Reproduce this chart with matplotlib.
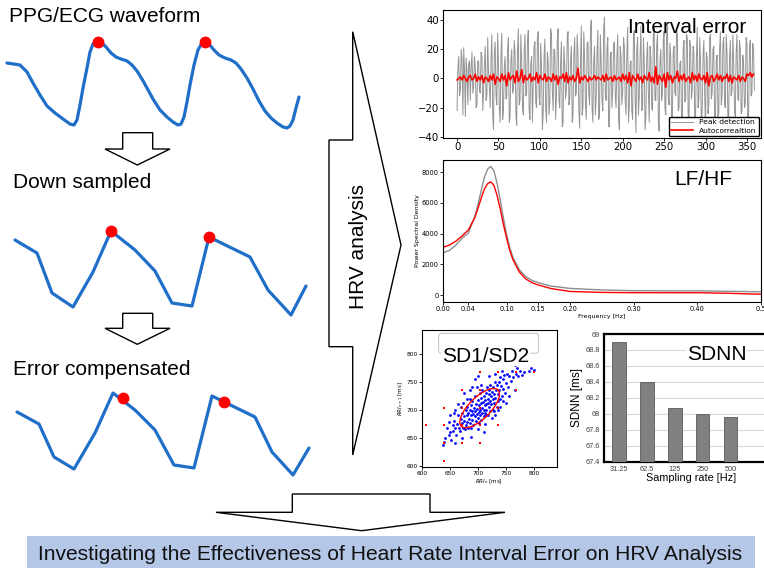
# plot.py - HRV graphical abstract (interval error, LF/HF, Poincare, SDNN)
import matplotlib
matplotlib.use("Agg")
import matplotlib.pyplot as plt
from matplotlib.patches import Polygon, Ellipse, Rectangle, FancyBboxPatch

# ------------------------------
# DATA
# ------------------------------
# schematic waveforms (pixel space of the left panel)
wave1_x = [7, 20, 27, 33, 40, 47, 55, 63, 70, 74, 77, 80, 83, 87, 90, 93, 97, 101, 106, 111,
           116, 121, 127, 132, 137, 142, 147, 153, 160, 167, 173, 178, 181, 184, 187, 190, 194,
           198, 202, 205, 209, 214, 219, 225, 231, 236, 241, 247, 253, 259, 265, 271, 277, 283,
           287, 290, 293, 296, 299]
wave1_y = [63, 65, 72, 83, 95, 106, 113, 119, 124, 125, 120, 105, 88, 68, 52, 44, 41, 42, 47, 53,
           57, 59, 61, 65, 71, 79, 88, 99, 110, 117, 122, 125, 124, 117, 102, 85, 65,
           50, 43, 41, 44, 50, 55, 58, 60, 63, 69, 78, 89, 101, 111, 118, 123, 127,
           128, 126, 120, 108, 97]
wave1_peaks_x = [98, 205]
wave1_peaks_y = [42, 42]

wave2_x = [15, 37, 52, 73, 93, 111, 135, 155, 172, 192, 209, 250, 268, 291, 306]
wave2_y = [240, 253, 293, 307, 272, 231, 250, 271, 303, 306, 237, 257, 290, 315, 286]
wave2_peaks_x = [111, 209]
wave2_peaks_y = [231, 237]

wave3_x = [17, 39, 54, 74, 95, 113, 135, 155, 174, 194, 212, 255, 272, 293, 309]
wave3_y = [412, 424, 457, 469, 433, 393, 410, 430, 465, 468, 396, 417, 452, 475, 448]
wave3_peaks_x = [123, 224]
wave3_peaks_y = [398, 402]

# interval error, peak detection (one value per beat)
beat_idx = list(range(360))
err_peak = [
    -22, 8, 15, -12, -8, 20, 12, -25, 21, 6, -26, 14, 5, -18, 10, 12, -15, 8, 18, -10,
    -5, 15, 8, -20, -18, 12, 12, -8, -10, 18, 15, -22, -9, 10, 22, -15, -12, 28, 5, -6,
    -20, 14, 30, -25, -35, 18, 25, -12, -18, 31, 10, -20, -30, 16, 31, -28, -22, 8, 15, -14,
    -12, 20, 28, -30, -26, 12, 20, -10, -8, 26, 18, -24, -32, 20, 34, -18, -15, 30, 12, -20,
    -25, 18, 30, -12, -10, 25, 33, -22, -28, 10, 15, -30, -5, 22, 25, -16, -20, 28, 32, -12,
    -18, 24, 8, -35, -24, 14, 27, -20, -30, 18, 12, -25, -16, 34, 30, -8, -22, 20, 18, -28,
    -12, 26, 34, -15, -20, 10, 25, -33, -30, 22, 10, -14, -8, 28, 32, -18, -15, 12, 22, -30,
    -26, 16, 28, -12, -10, 30, 18, -22, -34, 12, 36, -25, -20, 32, 14, -18, -28, 24, 25, -10,
    -18, 30, 40, -20, -30, 12, 22, -25, -12, 18, 33, -28, -25, 30, 10, -15, -22, 34, 42, -10,
    -15, 20, 28, -33, -33, 15, 18, -20, -8, 24, 25, -12, -20, 15, 30, -28, -35, 22, 15, -18,
    -10, 28, 22, -15, -25, 18, 35, -30, -18, 10, 12, -22, -28, 30, 33, -12, -37, 20, 28, -25,
    -12, 15, 36, -22, -20, 28, 10, -35, -26, 14, 25, -10, -30, 22, 14, -20, -22, 30, 35, -15,
    -15, 22, 30, -28, -36, 12, 20, -15, -10, 26, 32, -20, -25, 30, 38, -12, -18, 24, 15, -28,
    -28, 18, 22, -10, -12, 34, 30, -22, -20, 10, 12, -25, -32, 20, 26, -16, -14, 30, 28, -24,
    -30, 26, 20, -14, -8, 22, 18, -30, -25, 14, 35, -20, -15, 28, 10, -34, -22, 16, 26, -12,
    -34, 18, 14, -24, -18, 28, 30, -14, -10, 20, 22, -30, -28, 12, 16, -26, -24, 20, 32, -18,
    -12, 24, 28, -18, -20, 30, 18, -26, -30, 14, 26, -12, -8, 30, 12, -22, -26, 18, 30, -14,
    -15, 26, 20, -24, -22, 16, 10, -20, -18, 28, 24, -30, -28, 20, 26, -12, -10, 24, 20, -8]
# interval error, autocorrelation (every second beat)
beat_idx_auto = list(range(0, 360, 2))
err_auto = [
    -1, 0, 1, -1, 2, 0, -2, 1, 2, -1, 0, 3, -2, 1, -1, 2, -3, 1, 0, -2,
    2, -1, 3, -4, 1, 0, -2, 3, -1, 2, -5, 4, -1, 1, 2, -3, 5, -2, 0, 6,
    -3, 2, -1, 0, 3, -2, 1, -1, 4, -3, 2, 0, -1, 3, -2, 1, 0, -2, 3, -1,
    2, -4, 1, 0, 3, -2, 4, -3, 1, -1, 2, -2, 0, 7, -3, 1, -1, 2, 0, -2,
    1, -1, 0, 2, -1, 1, 0, -1, 2, -2, 3, -1, 0, 1, -2, 2, -1, 0, 1, -2,
    3, -1, 2, -3, 4, -5, 2, 0, -2, 3, -1, 1, -3, 2, 0, -1, 4, -2, 1, -3,
    8, -4, 2, 0, -2, 3, -6, 4, -1, 2, -3, 1, 0, 5, -2, 2, -1, 3, -2, 0,
    1, -3, 4, -1, 2, -2, 3, 0, -1, 2, -3, 4, -5, 1, 2, -2, 0, 3, -1, 2,
    -2, 1, 0, 3, -2, 2, -3, 1, 0, -1, 2, -2, 1, 0, -2, 3, 2, 4, 1, 3]

# power spectral density
freq = [0.0, 0.01, 0.02, 0.03, 0.04, 0.05, 0.055, 0.06, 0.065, 0.07, 0.075, 0.08, 0.085,
        0.09, 0.095, 0.10, 0.105, 0.11, 0.12, 0.13, 0.14, 0.15, 0.17, 0.20, 0.25, 0.30,
        0.35, 0.40, 0.45, 0.50]
psd_peak = [2760, 2900, 3250, 3700, 4050, 5100, 5900, 6800, 7650, 8200, 8380, 8100, 7300,
            6200, 5000, 3950, 3100, 2450, 1650, 1200, 950, 800, 580, 430, 330, 280,
            270, 270, 240, 210]
psd_auto = [3110, 3250, 3500, 3850, 4250, 5050, 5650, 6300, 6900, 7250, 7380, 7150, 6500,
            5600, 4600, 3700, 2900, 2300, 1500, 1050, 800, 650, 420, 230, 170, 150,
            150, 150, 110, 50]

# Poincare plot
rr_blue = [
    (638, 636), (640, 642), (642, 650), (645, 668), (648, 655), (650, 660), (652, 646), (655, 672),
    (656, 662), (658, 680), (660, 668), (661, 655), (663, 675), (665, 690), (666, 668), (668, 662),
    (670, 684), (671, 676), (672, 695), (673, 668), (674, 712), (675, 680), (676, 688), (677, 665),
    (678, 700), (679, 672), (680, 690), (680, 678), (681, 705), (682, 668), (683, 694), (684, 684),
    (685, 720), (685, 700), (686, 676), (687, 690), (688, 708), (688, 668), (689, 698), (690, 682),
    (690, 715), (691, 693), (692, 672), (693, 704), (694, 688), (695, 725), (695, 698), (696, 680),
    (697, 710), (698, 692), (698, 740), (699, 702), (700, 686), (700, 718), (701, 696), (702, 676),
    (702, 708), (703, 730), (704, 700), (704, 690), (705, 712), (706, 682), (706, 722), (707, 704),
    (708, 695), (708, 735), (709, 714), (710, 700), (710, 688), (711, 725), (712, 708), (712, 718),
    (713, 694), (714, 730), (715, 710), (715, 700), (716, 740), (717, 720), (718, 690), (718, 712),
    (719, 728), (720, 705), (720, 735), (721, 716), (722, 698), (722, 745), (723, 724), (724, 710),
    (725, 732), (726, 700), (726, 720), (727, 740), (728, 712), (729, 728), (730, 690), (730, 750),
    (731, 722), (732, 735), (733, 705), (734, 745), (735, 728), (736, 715), (737, 750), (738, 735),
    (739, 720), (740, 758), (741, 742), (742, 725), (744, 755), (745, 738), (746, 762), (748, 730),
    (750, 748), (752, 765), (754, 740), (756, 760), (758, 752), (760, 770), (763, 758), (765, 780),
    (768, 765), (770, 775), (772, 760), (775, 770), (778, 762), (782, 768), (790, 770), (795, 775),
    (800, 772), (765, 735), (680, 720), (690, 740), (700, 665), (712, 675), (725, 685), (740, 705),
    (660, 700), (650, 690), (695, 755), (730, 765), (745, 715), (755, 725), (670, 705), (685, 735),
    (705, 745), (720, 760), (660, 640), (672, 650), (648, 678), (710, 660), (735, 700), (750, 712),
    (665, 710), (700, 760), (715, 690), (688, 652), (728, 698), (742, 770), (676, 730), (658, 695)]
rr_red = [
    (608, 672), (640, 672), (640, 704), (640, 640), (640, 608), (672, 736), (672, 704), (672, 640),
    (672, 672), (704, 768), (704, 736), (704, 640), (736, 768), (736, 736), (736, 672), (768, 768),
    (768, 736), (800, 768), (704, 704), (736, 704), (704, 672)]
ellipse_center = (703, 703)
ellipse_sd2 = 46
ellipse_sd1 = 19

# SDNN vs sampling rate
rates = ["31.25", "62.5", "125", "250", "500"]
sdnn = [68.9, 68.4, 68.07, 68.0, 67.96]
sdnn_ticks = [67.4, 67.6, 67.8, 68.0, 68.2, 68.4, 68.6, 68.8, 69.0]
sdnn_ticklabels = ["67.4", "67.6", "67.8", "68", "68.2", "68.4", "68.6", "68.8", "69"]

# ------------------------------
# LAYOUT HELPERS
# ------------------------------
W, H = 764, 568
ARIAL = ["Liberation Sans", "DejaVu Sans"]
BLUE = "#1f6fc9"


def rect(x0, y0, x1, y1):
    """pixel box (top-left origin) -> figure fraction"""
    return [x0 / W, 1 - y1 / H, (x1 - x0) / W, (y1 - y0) / H]


def ftext(x, y, s, **kw):
    """figure text placed in pixels, top-left origin (drawn above all axes)"""
    kw.setdefault("family", ARIAL)
    kw.setdefault("va", "baseline")
    return fig.text(x / W, 1 - y / H, s, **kw)


def small_ticks(ax, size):
    ax.tick_params(labelsize=size, length=2, width=0.6, pad=1)
    for s in ax.spines.values():
        s.set_linewidth(0.8)


fig = plt.figure(figsize=(W / 100, H / 100), dpi=100)

# background layer in pixel coordinates
bg = fig.add_axes([0, 0, 1, 1])
bg.set_xlim(0, W)
bg.set_ylim(H, 0)
bg.axis("off")

for wx, wy, px, py in [(wave1_x, wave1_y, wave1_peaks_x, wave1_peaks_y),
                       (wave2_x, wave2_y, wave2_peaks_x, wave2_peaks_y),
                       (wave3_x, wave3_y, wave3_peaks_x, wave3_peaks_y)]:
    bg.plot(wx, wy, color=BLUE, lw=2.3, solid_joinstyle="round", solid_capstyle="round")
    bg.plot(px, py, "o", color="red", ms=7.5, zorder=5)

# small down arrows
for top, shoulder, tip in [(132.7, 149, 165), (313.3, 328.3, 344.3)]:
    bg.add_patch(Polygon([(122.7, top), (152.7, top), (152.7, shoulder), (170, shoulder),
                          (137.3, tip), (105, shoulder), (122.7, shoulder), (122.7, top)],
                         closed=True, fc="white", ec="black", lw=1.0))

# big right arrow
bg.add_patch(Polygon([(352.7, 31.7), (401, 245), (352.7, 455), (352.7, 346.7), (329, 346.7),
                      (329, 140), (352.7, 140)], closed=True, fc="white", ec="black", lw=1.0))

# bottom down arrow
bg.add_patch(Polygon([(292.3, 494), (430, 494), (430, 512.3), (505, 512.3), (361.7, 530.7),
                      (216, 512.3), (292.3, 512.3)], closed=True, fc="white", ec="black", lw=1.0))

# bottom banner
bg.add_patch(Rectangle((27.3, 536), 755 - 27.3, 40, fc="#b4c7e7", ec="none"))

ftext(358, 246.5, "HRV analysis", rotation=90, ha="center", va="center", fontsize=15)
ftext(390, 560, "Investigating the Effectiveness of Heart Rate Interval Error on HRV Analysis",
      ha="center", fontsize=15.1, color="#111111")
ftext(9, 21.7, "PPG/ECG waveform", fontsize=15)
ftext(13, 188, "Down sampled", fontsize=15)
ftext(13, 375, "Error compensated", fontsize=15)

# ------------------------------
# Interval error
# ------------------------------
ax1 = fig.add_axes(rect(443, 10, 761, 138))
ax1.plot(beat_idx, err_peak, color="#959595", lw=0.7, label="Peak detection")
ax1.plot(beat_idx_auto, err_auto, color="red", lw=1.2, label="Autocorrealtion")
ax1.set_xlim(-17, 367)
ax1.set_ylim(-40.7, 46.8)
ax1.set_xticks([0, 50, 100, 150, 200, 250, 300, 350])
ax1.set_yticks([-40, -20, 0, 20, 40])
small_ticks(ax1, 7.3)
ax1.legend(loc="lower right", fontsize=5.4, handlelength=3, borderaxespad=0.25,
           framealpha=1, edgecolor="black", fancybox=True, borderpad=0.3, labelspacing=0.3)
ftext(746, 33.3, "Interval error", ha="right", fontsize=15)

# ------------------------------
# LF/HF
# ------------------------------
ax2 = fig.add_axes(rect(443, 160, 761, 302))
ax2.plot(freq, psd_peak, color="#8c8c8c", lw=1.0)
ax2.plot(freq, psd_auto, color="red", lw=1.0)
ax2.set_xlim(0, 0.5)
ax2.set_ylim(-456, 8800)
ax2.set_xticks([0.0, 0.04, 0.10, 0.15, 0.20, 0.30, 0.40, 0.5])
ax2.set_xticklabels(["0.00", "0.04", "0.10", "0.15", "0.20", "0.30", "0.40", "0.5"])
ax2.set_yticks([0, 2000, 4000, 6000, 8000])
small_ticks(ax2, 4.8)
ax2.set_xlabel("Frequency [Hz]", fontsize=4.5, labelpad=1)
ax2.set_ylabel("Power Spectral Density", fontsize=4.5, labelpad=1)
ftext(732, 185, "LF/HF", ha="right", fontsize=15)

# ------------------------------
# SD1/SD2
# ------------------------------
ax3 = fig.add_axes(rect(421.7, 330, 556.7, 466.7))
ax3.scatter([p[0] for p in rr_blue], [p[1] for p in rr_blue], s=4, color="blue", lw=0)
ax3.scatter([p[0] for p in rr_red], [p[1] for p in rr_red], s=3.5, color="red", lw=0, marker="s")
ax3.add_patch(Ellipse(ellipse_center, 2 * ellipse_sd2, 2 * ellipse_sd1, angle=45,
                      fill=False, ec="red", lw=1.0))
ax3.set_xlim(600, 840)
ax3.set_ylim(598, 843)
ax3.set_xticks([600, 650, 700, 750, 800])
ax3.set_yticks([600, 650, 700, 750, 800])
small_ticks(ax3, 4.2)
ax3.set_xlabel("$RRI_n$ [ms]", fontsize=4, labelpad=1)
ax3.set_ylabel("$RRI_{n+1}$ [ms]", fontsize=4, labelpad=1)
ax3.add_patch(FancyBboxPatch((0.125, 0.83), 0.74, 0.145, transform=ax3.transAxes,
                             boxstyle="round,pad=0,rounding_size=0.02", fc="none",
                             ec="#c8c8c8", lw=0.8))
ftext(442, 361.7, "SD1/SD2", fontsize=15, bbox=dict(fc="white", ec="none", pad=0.5))

# ------------------------------
# SDNN
# ------------------------------
ax4 = fig.add_axes(rect(604.3, 334, 778, 461.7))
ax4.bar(range(len(rates)), sdnn, width=0.48, color="#808080", edgecolor="#5a5a5a",
        lw=0.6, zorder=3)
ax4.set_xlim(-0.52, 5.69)
ax4.set_ylim(67.4, 69.0)
ax4.set_yticks(sdnn_ticks)
ax4.set_yticklabels(sdnn_ticklabels)
ax4.set_xticks(range(len(rates)))
ax4.set_xticklabels(rates)
ax4.grid(axis="y", color="#d9d9d9", lw=0.8, zorder=0)
ax4.tick_params(length=0, labelsize=5.3, labelcolor="#404040", pad=3)
for lab in ax4.get_xticklabels() + ax4.get_yticklabels():
    lab.set_family(ARIAL)
for s in ax4.spines.values():
    s.set_linewidth(1.6)
ax4.set_xlabel("Sampling rate [Hz]", fontsize=7.8, family=ARIAL, labelpad=0)
ax4.set_ylabel("SDNN [ms]", fontsize=8.5, family=ARIAL, labelpad=2)
ftext(686.7, 360, "SDNN", fontsize=15, bbox=dict(fc="white", ec="none", pad=0.5))

fig.savefig("out.png", dpi=100)
